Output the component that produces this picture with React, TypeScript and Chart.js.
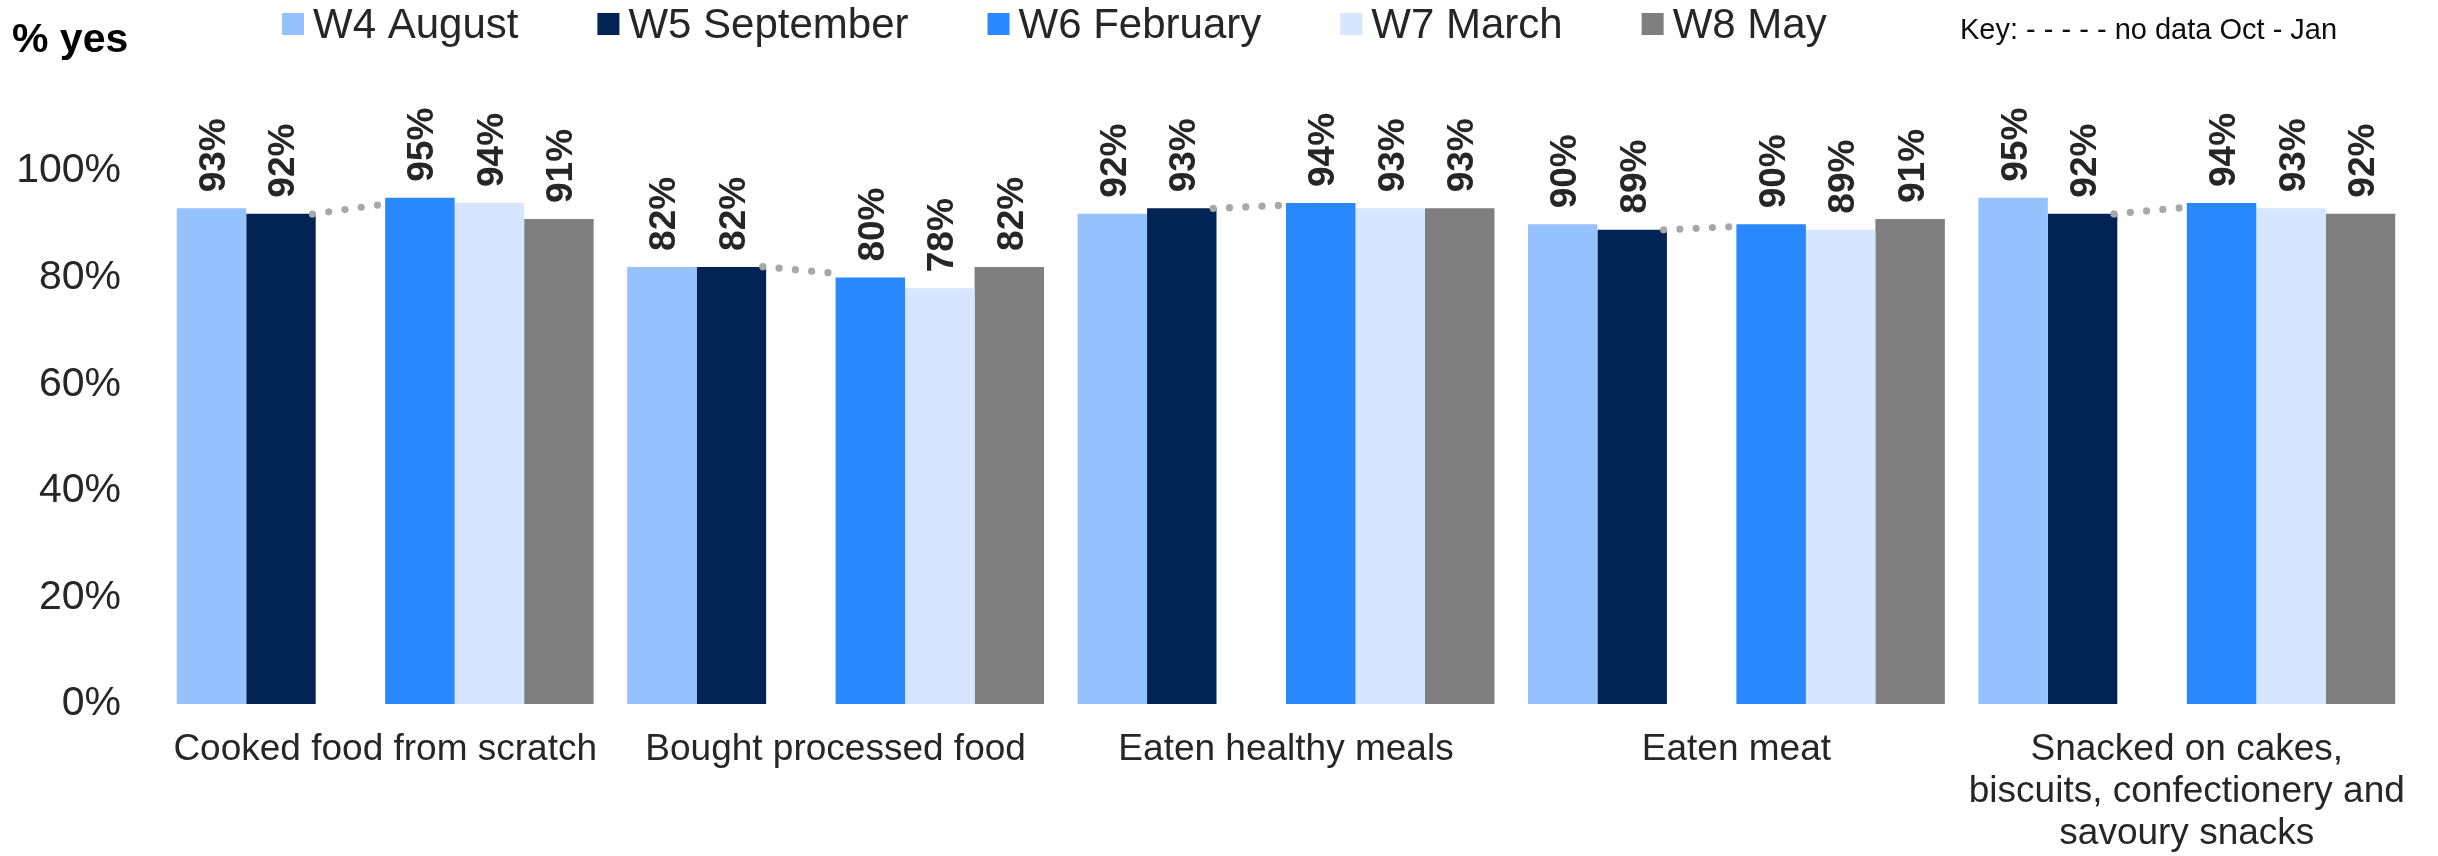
import React, { useEffect, useRef } from 'react';
import { Chart, registerables } from 'chart.js';

Chart.register(...registerables);

const categories: (string | string[])[] = [
  'Cooked food from scratch',
  'Bought processed food',
  'Eaten healthy meals',
  'Eaten meat',
  ['Snacked on cakes,', 'biscuits, confectionery and', 'savoury snacks'],
];
const waveLabels = ['W4 August', 'W5 September', 'W6 February', 'W7 March', 'W8 May'];
const w4August = [93, 82, 92, 90, 95];
const w5September = [92, 82, 93, 89, 92];
const w6February = [95, 80, 94, 90, 94];
const w7March = [94, 78, 93, 89, 93];
const w8May = [91, 82, 93, 91, 92];
const yTicks = [0, 20, 40, 60, 80, 100];
const waveColors = ['#95C2FD', '#022455', '#2A88FE', '#D5E6FE', '#7F7F7F'];
const axisTitle = '% yes';
const keyText = 'Key: - - - - - no data Oct - Jan';

const FONT = "'Liberation Sans', Arial, sans-serif";

const overlayPlugin = {
  id: 'overlay',
  afterDatasetsDraw(chart: any) {
    const ctx = chart.ctx;
    // dotted connector between W5 and W6 (gap = no data Oct - Jan)
    const m5 = chart.getDatasetMeta(1);
    const m6 = chart.getDatasetMeta(3);
    ctx.save();
    ctx.fillStyle = '#A8A8A8';
    for (let i = 0; i < categories.length; i++) {
      const a = m5.data[i];
      const b = m6.data[i];
      if (!a || !b) continue;
      const x0 = a.x + a.width / 2;
      const y0 = a.y;
      const x1 = b.x - b.width / 2;
      const y1 = b.y;
      const sx = x0 - 3.3;
      const ex = x1 - 7.7;
      const n = 5;
      for (let k = 0; k < n; k++) {
        const x = sx + ((ex - sx) * k) / (n - 1);
        const t = (x - x0) / (x1 - x0);
        const y = y0 + (y1 - y0) * 0.6 * t;
        ctx.beginPath();
        ctx.arc(x, y, 3.6, 0, Math.PI * 2);
        ctx.fill();
      }
    }
    ctx.restore();

    // rotated value labels
    ctx.save();
    ctx.fillStyle = '#262626';
    ctx.font = `bold 37px ${FONT}`;
    ctx.textAlign = 'left';
    ctx.textBaseline = 'alphabetic';
    chart.data.datasets.forEach((ds: any, di: number) => {
      if (ds.isGap) return;
      const meta = chart.getDatasetMeta(di);
      meta.data.forEach((bar: any, i: number) => {
        const v = ds.data[i];
        if (v == null) return;
        ctx.save();
        ctx.translate(bar.x + 13.5, bar.y - 16);
        ctx.rotate(-Math.PI / 2);
        ctx.fillText(`${v}%`, 0, 0);
        ctx.restore();
      });
    });
    ctx.restore();
  },
  afterDraw(chart: any) {
    const ctx = chart.ctx;
    ctx.save();
    // axis title
    ctx.fillStyle = '#000000';
    ctx.font = `bold 41px ${FONT}`;
    ctx.textAlign = 'left';
    ctx.textBaseline = 'alphabetic';
    ctx.fillText(axisTitle, 12, 52);

    // legend
    ctx.font = `42px ${FONT}`;
    let x = 282;
    waveLabels.forEach((label, i) => {
      ctx.fillStyle = waveColors[i];
      ctx.fillRect(x, 13, 22, 22);
      ctx.fillStyle = '#262626';
      ctx.fillText(label, x + 31, 38);
      x += 31 + ctx.measureText(label).width + 79;
    });

    // key
    ctx.fillStyle = '#0D0D0D';
    ctx.font = `29px ${FONT}`;
    ctx.fillText(keyText, 1960, 39);
    ctx.restore();
  },
};

export default function App() {
  const canvasRef = useRef<HTMLCanvasElement | null>(null);

  useEffect(() => {
    document.body.style.margin = '0';
    const canvas = canvasRef.current;
    if (!canvas) return;

    const series = [w4August, w5September, null, w6February, w7March, w8May];
    let ci = 0;
    const datasets = series.map((s) => {
      if (s === null) {
        return {
          label: 'no data',
          isGap: true,
          data: categories.map(() => null),
          backgroundColor: 'rgba(0,0,0,0)',
        } as any;
      }
      const idx = ci++;
      return {
        label: waveLabels[idx],
        data: s,
        backgroundColor: waveColors[idx],
        borderWidth: 0,
      } as any;
    });

    const chart = new Chart(canvas, {
      type: 'bar',
      data: { labels: categories as any, datasets },
      options: {
        responsive: false,
        animation: false,
        events: [],
        layout: { padding: { top: 171, right: 26, bottom: 0, left: 10 } },
        datasets: {
          bar: { barPercentage: 1.0, categoryPercentage: 0.9256 },
        } as any,
        plugins: {
          legend: { display: false },
          tooltip: { enabled: false },
          title: { display: false },
        },
        scales: {
          x: {
            grid: { display: false, drawTicks: false },
            border: { display: false },
            ticks: {
              color: '#262626',
              font: { family: FONT, size: 37, lineHeight: '42px' as any },
              padding: 25,
              maxRotation: 0,
              minRotation: 0,
              autoSkip: false,
            },
            afterFit: (scale: any) => {
              scale.height = 152;
            },
          },
          y: {
            min: 0,
            max: 100,
            grid: { display: false, drawTicks: false },
            border: { display: false },
            ticks: {
              color: '#262626',
              font: { family: FONT, size: 41 },
              padding: 39,
              callback: (v: any) => `${v}%`,
            },
            afterBuildTicks: (axis: any) => {
              axis.ticks = yTicks.map((v) => ({ value: v }));
            },
            afterFit: (scale: any) => {
              scale.width = 150;
            },
          },
        },
      },
      plugins: [overlayPlugin],
    });

    return () => {
      chart.destroy();
    };
  }, []);

  return (
    <div style={{ width: 2438, height: 856, background: '#ffffff' }}>
      <canvas ref={canvasRef} width={2438} height={856} style={{ display: 'block' }} />
    </div>
  );
}
